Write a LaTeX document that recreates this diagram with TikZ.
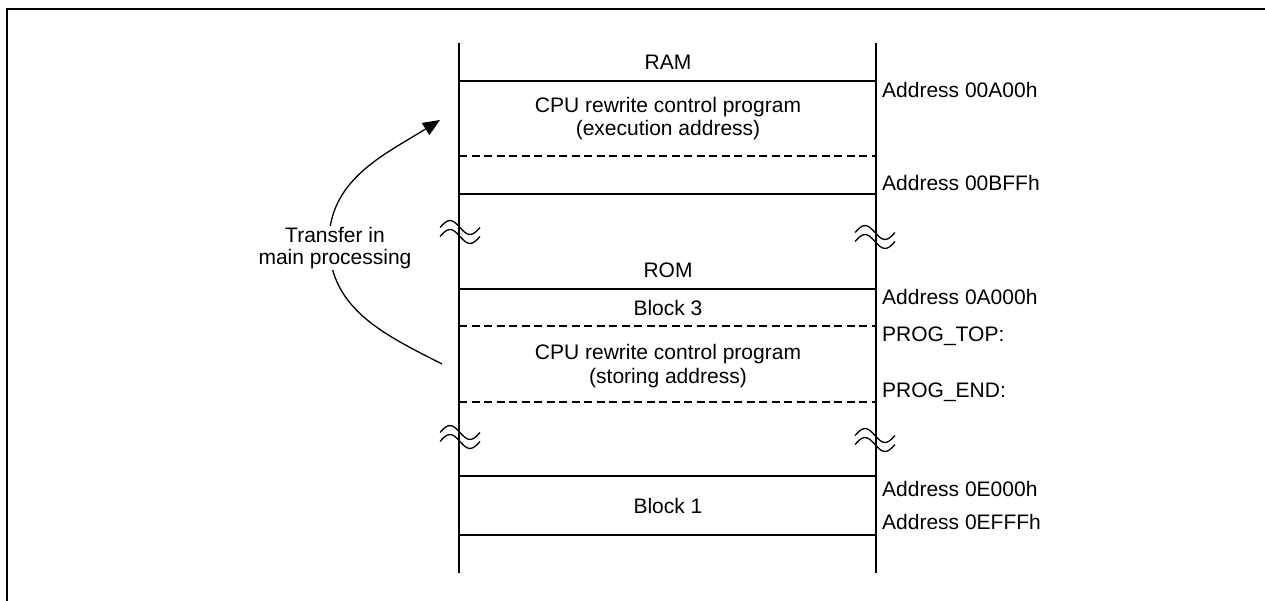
\documentclass[tikz,border=0pt]{standalone}
\usepackage{fontspec}
\setmainfont{Liberation Sans}
\usetikzlibrary{arrows.meta}
\tikzset{
  wall/.style={line width=1.3pt},
  solidrow/.style={line width=1.3pt},
  dashrow/.style={line width=1.3pt, dash pattern=on 8pt off 4.5pt},
  lbl/.style={inner sep=0pt, anchor=center},
  addr/.style={inner sep=0pt, anchor=west},
  brk/.pic={
    \foreach \dy in {-4.5,4.5}{
      \draw[line width=1.3pt] (-20,\dy) sin (-10,\dy-7) cos (0,\dy) sin (10,\dy+7) cos (20,\dy);
    }
  }
}
\begin{document}
\begin{tikzpicture}[x=1pt,y=-1pt,font=\fontsize{21}{22.5}\selectfont]
\useasboundingbox (0,0) rectangle (1265,601);
\draw[line width=2.5pt] (7,601) -- (7,9) -- (1265,9);

% walls
\coordinate (lt) at (459,43); \coordinate (lb) at (459,573);
\coordinate (rt) at (876,43); \coordinate (rb) at (876,573);
\draw[wall] (lt) -- (lb);
\draw[wall] (rt) -- (rb);

% rows
\draw[solidrow] (459,81) -- (876,81);
\draw[dashrow]  (459,156) -- (876,156);
\draw[solidrow] (459,194) -- (876,194);
\draw[solidrow] (459,289) -- (876,289);
\draw[dashrow]  (459,326) -- (876,326);
\draw[dashrow]  (459,402) -- (876,402);
\draw[solidrow] (459,476) -- (876,476);
\draw[solidrow] (459,535) -- (876,535);

% breaks
\pic at (460,232) {brk};
\pic at (875,237) {brk};
\pic at (460,437) {brk};
\pic at (875,440) {brk};

% block texts
\node[lbl] (ram) at (668,62) {RAM};
\node[lbl] (cpu1) at (668,107) {CPU rewrite control program};
\node[lbl] (exe) at (668,130) {(execution address)};
\node[lbl] (rom) at (668,270) {ROM};
\node[lbl] (b3) at (668,308) {Block 3};
\node[lbl] (cpu2) at (668,354) {CPU rewrite control program};
\node[lbl] (sto) at (668,378) {(storing address)};
\node[lbl] (b1) at (668,506) {Block 1};

% address labels
\node[addr] (a1) at (882,90) {Address 00A00h};
\node[addr] (a2) at (882,183) {Address 00BFFh};
\node[addr] (a3) at (882,297) {Address 0A000h};
\node[addr] (a4) at (882,336) {PROG\_TOP:};
\node[addr] (a5) at (882,392) {PROG\_END:};
\node[addr] (a6) at (882,489) {Address 0E000h};
\node[addr] (a7) at (882,522) {Address 0EFFFh};

% transfer arrow
\coordinate (tfrom) at (442,364);
\coordinate (tmid) at (329,246);
\coordinate (tto) at (440,120);
\draw[line width=1.3pt] (tfrom) to[out=153,in=-88] (tmid);
\draw[line width=1.3pt,-{Triangle[length=17pt,width=14pt]}] (tmid) to[out=92,in=212] (tto);
\node[fill=white, inner sep=1pt, align=center] (tr) at (335,248) {Transfer in\\main processing};
\end{tikzpicture}
\end{document}
